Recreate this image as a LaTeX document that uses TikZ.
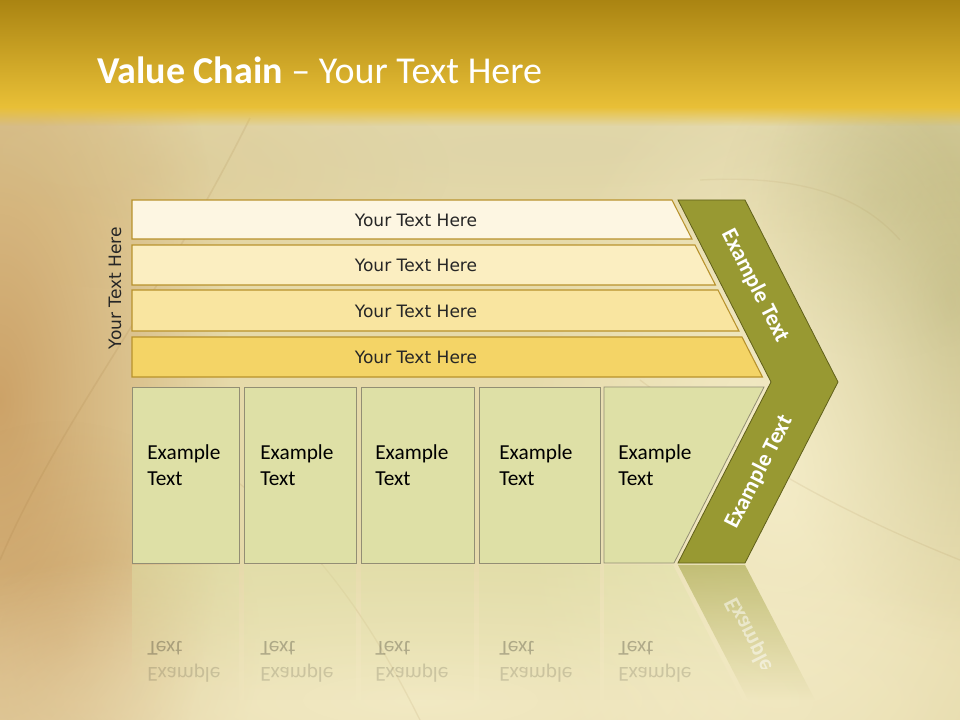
\documentclass[tikz,border=0pt]{standalone}
\usepackage{fontspec}
\setmainfont{Carlito}
\newfontfamily\rowfont{DejaVu Sans}
\usetikzlibrary{fadings}
\definecolor{HeadTop}{RGB}{170,132,18}
\definecolor{HeadBottom}{RGB}{233,192,55}
\definecolor{Paper}{RGB}{241,234,194}
\definecolor{PaperEdge}{RGB}{230,218,170}
\definecolor{BrownBlob}{RGB}{196,144,82}
\definecolor{TanBlob}{RGB}{214,184,124}
\definecolor{GreenBlob}{RGB}{176,170,110}
\definecolor{GreyBlob}{RGB}{210,204,165}
\definecolor{CreamBlob}{RGB}{250,244,212}
\definecolor{VeinLine}{RGB}{150,110,50}
\definecolor{RowOne}{RGB}{253,246,226}
\definecolor{RowTwo}{RGB}{251,238,193}
\definecolor{RowThree}{RGB}{249,229,160}
\definecolor{RowFour}{RGB}{244,212,102}
\definecolor{RowLine}{RGB}{184,146,44}
\definecolor{BoxFill}{RGB}{222,224,166}
\definecolor{BoxLine}{RGB}{146,142,116}
\definecolor{Olive}{RGB}{152,153,50}
\definecolor{OliveLine}{RGB}{96,96,26}
\tikzfading[name=softspot, inner color=transparent!0, outer color=transparent!100]

\begin{document}
\begin{tikzpicture}[
    x=0.75pt, y=-0.75pt,
    rowbar/.style={draw=RowLine, line width=0.8pt},
    colbox/.style={fill=BoxFill, draw=BoxLine, line width=0.6pt},
    rowtext/.style={font=\rowfont\fontsize{12.8}{15}\selectfont, text=black!85},
    boxtext/.style={font=\fontsize{16}{19.5}\selectfont, align=left, anchor=west, inner sep=0pt},
    chevtext/.style={font=\bfseries\fontsize{17}{20}\selectfont, text=white},
    ghost/.style={font=\fontsize{16}{19.5}\selectfont, anchor=west, inner sep=0pt, yscale=-1},
    blob/.style={path fading=softspot}
  ]
    \useasboundingbox (0,0) rectangle (960,720);

    % paper background
    \fill[left color=PaperEdge, middle color=Paper, right color=PaperEdge] (0,0) rectangle (960,720);
    \fill[BrownBlob, opacity=0.75, blob] (0,400) ellipse [x radius=230, y radius=560];
    \fill[BrownBlob, opacity=0.4, blob] (60,640) ellipse [x radius=200, y radius=220];
    \fill[TanBlob, opacity=0.35, blob] (150,170) ellipse [x radius=300, y radius=120];
    \fill[GreyBlob, opacity=0.35, blob] (540,150) ellipse [x radius=640, y radius=90];
    \fill[GreenBlob, opacity=0.6, blob] (950,300) ellipse [x radius=200, y radius=340];
    \fill[GreenBlob, opacity=0.35, blob] (880,200) ellipse [x radius=160, y radius=160];
    \fill[CreamBlob, opacity=0.7, blob] (780,470) ellipse [x radius=260, y radius=420];
    \fill[CreamBlob, opacity=0.6, blob] (420,700) ellipse [x radius=700, y radius=160];
    \draw[VeinLine, opacity=0.12, line width=1.2pt] (250,118) .. controls (160,300) and (60,420) .. (0,560);
    \draw[VeinLine, opacity=0.1, line width=1pt] (420,720) .. controls (360,600) and (300,520) .. (180,440);
    \draw[VeinLine, opacity=0.1, line width=1pt] (960,560) .. controls (860,520) and (760,470) .. (640,380);
    \draw[VeinLine, opacity=0.08, line width=1pt] (700,180) .. controls (800,175) and (860,195) .. (900,240);

    % reflection of the steps
    \begin{scope}[opacity=0.5]
      \foreach \xa/\xb in {132/239, 244/356, 361/474, 479/600}
        \fill[BoxFill, path fading=south] (\xa,565) rectangle (\xb,700);
      \fill[BoxFill, path fading=south] (604,565) -- (673,565) -- (742,700) -- (604,700) -- cycle;
      \fill[Olive, path fading=south] (678,565) -- (745,565) -- (815,700) -- (748,700) -- cycle;
    \end{scope}
    \foreach \n/\tx in {1/147, 2/260, 3/375, 4/499, 5/618}{
      \node[ghost, opacity=0.25] (ghosttext\n) at (\tx,648) {Text};
      \node[ghost, opacity=0.14] (ghostex\n) at (\tx,673) {Example};
    }
    \begin{scope}
      \clip (678,565) -- (745,565) -- (799,668) -- (732,668) -- cycle;
      \node[chevtext, rotate=-63, yscale=-1, opacity=0.5] (ghostchev) at (759,654) {Example Text};
    \end{scope}

    % header band
    \fill[top color=HeadTop, bottom color=HeadBottom] (0,0) rectangle (960,108);
    \fill[HeadBottom, path fading=south] (0,107) rectangle (960,126);
    \node[anchor=base west, inner sep=0pt, text=white, font=\fontsize{28.5}{34}\selectfont] (title) at (97,84) {\textbf{Value Chain} – Your Text Here};

    % support rows
    \foreach \n/\ya/\yb/\col in {1/200/239/RowOne, 2/245/285/RowTwo, 3/290/331/RowThree, 4/337/377/RowFour}{
      \draw[rowbar, fill=\col] (132,\ya) -- ({672+0.511*(\ya-200)},\ya) -- ({672+0.511*(\yb-200)},\yb) -- (132,\yb) -- cycle;
      \node[rowtext] (row\n) at (416,{(\ya+\yb)/2+0.5}) {Your Text Here};
    }
    \node[rowtext, rotate=90] (side) at (115,288) {Your Text Here};

    % primary steps
    \foreach \n/\xa/\xb/\tx in {1/132/239/147, 2/244/356/260, 3/361/474/375, 4/479/600/499}{
      \draw[colbox] (\xa,387) rectangle (\xb,563);
      \node[boxtext] (box\n) at (\tx,465) {Example\\Text};
    }
    \draw[colbox] (604,387) -- (764,387) -- (674,563) -- (604,563) -- cycle;
    \node[boxtext] (box5) at (618,465) {Example\\Text};

    % margin chevron
    \draw[fill=Olive, draw=OliveLine, line width=0.6pt] (678,200) -- (745,200) -- (838,382) -- (745,563) -- (678,563) -- (771,382) -- cycle;
    \node[chevtext, rotate=-63] (chevup) at (755,286) {Example Text};
    \node[chevtext, rotate=63] (chevdown) at (759,472) {Example Text};
\end{tikzpicture}
\end{document}
